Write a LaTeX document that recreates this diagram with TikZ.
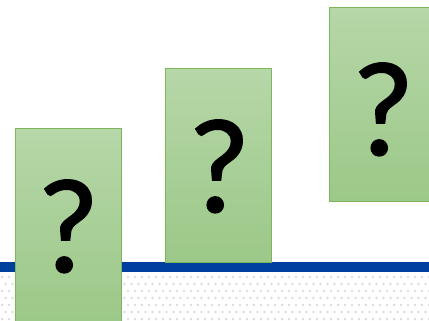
\documentclass[tikz,border=0pt]{standalone}
\usepackage{fontspec}
\newfontfamily\qfont[FakeBold=1.1]{Carlito}
\definecolor{barblue}{HTML}{003F9E}
\definecolor{gtop}{HTML}{B6D7A8}
\definecolor{gbot}{HTML}{9CC888}
\definecolor{gedge}{HTML}{7DB65D}
\definecolor{dotgray}{HTML}{DCDCDC}
\tikzset{
  qbox/.style={draw=gedge, line width=1pt, top color=gtop, bottom color=gbot},
  qmark/.style={anchor=base, inner sep=0pt, font=\qfont\fontsize{135}{135}\selectfont, text=black},
  dotmark/.style={fill=dotgray, draw=none}
}
\begin{document}
\begin{tikzpicture}[x=1pt,y=-1pt]
\useasboundingbox (0,0) rectangle (429,321);
\clip (0,0) rectangle (429,321);
\fill[white] (0,0) rectangle (429,321);
% dotted band
\foreach \r in {0,...,6} {
  \pgfmathsetmacro{\yy}{277+\r*7}
  \pgfmathsetmacro{\off}{mod(\r,2)*3.5}
  \foreach \c in {0,...,62} {
    \fill[dotmark] ({\off+\c*7+2},\yy) circle (1.4);
  }
}
% blue bar
\fill[barblue] (0,262) rectangle (429,272);
% boxes
\node[qbox, minimum width=106pt, minimum height=194pt, inner sep=0pt, anchor=north west] (b1) at (15,128) {};
\node[qbox, minimum width=106pt, minimum height=194pt, inner sep=0pt, anchor=north west] (b2) at (165,68) {};
\node[qbox, minimum width=106pt, minimum height=194pt, inner sep=0pt, anchor=north west] (b3) at (329,7) {};
\node[qmark] (q1) at (68,272) {?};
\node[qmark] (q2) at (219,212) {?};
\node[qmark] (q3) at (383,155) {?};
\end{tikzpicture}
\end{document}
